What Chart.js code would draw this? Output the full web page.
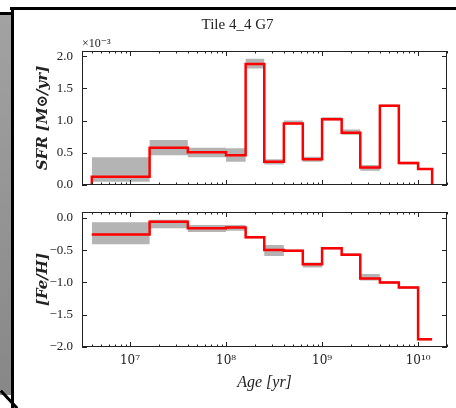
<!DOCTYPE html>
<html>
<head>
<meta charset="utf-8">
<script src="https://cdn.jsdelivr.net/npm/chart.js@4.4.1/dist/chart.umd.min.js"></script>
<style>
  html, body { margin: 0; padding: 0; background: #fff; }
  #page { position: relative; width: 456px; height: 408px; overflow: hidden; background: #fff; }
  canvas { position: absolute; left: 0; }
  #sfrChart { top: 0; }
  #fehChart { top: 200px; }
  .frame { position: absolute; background: #000; }
  #strip { position: absolute; left: 0; top: 15px; width: 11px; height: 380px; background: linear-gradient(#a2a2a2, #878787); }
</style>
</head>
<body>
<div id="page">
  <div id="strip"></div>
  <canvas id="sfrChart" width="456" height="200"></canvas>
  <canvas id="fehChart" width="456" height="208"></canvas>
  <div class="frame" style="left:10px;top:7px;width:446px;height:3px"></div>
  <div class="frame" style="left:11px;top:8px;width:3px;height:400px"></div>
  <div class="frame" style="left:0;top:12px;width:12px;height:3px"></div>
  <div class="frame" style="left:-3px;top:398px;width:24px;height:3px;transform:rotate(47deg)"></div>
</div>
<script>
// bin edges (age, yr)
var binEdges = [4e6, 1.6e7, 4e7, 1e8, 1.6e8, 2.5e8, 4e8, 6.3e8, 1e9, 1.6e9, 2.5e9, 4e9, 6.3e9, 1e10, 1.4e10];

// SFR in units of 1e-3 Msun/yr
var sfr   = [0.13, 0.58, 0.51, 0.46, 1.88, 0.36, 0.955, 0.40, 1.02, 0.81, 0.27, 1.23, 0.34, 0.25];
var sfrLo = [0.05, 0.46, 0.43, 0.36, 1.81, 0.32, 0.94, 0.36, 1.00, 0.78, 0.22, 1.21, 0.32, 0.24];
var sfrHi = [0.43, 0.70, 0.58, 0.57, 1.96, 0.40, 1.00, 0.44, 1.05, 0.86, 0.31, 1.25, 0.36, 0.26];

// [Fe/H]
var feh   = [-0.26, -0.06, -0.16, -0.15, -0.30, -0.50, -0.51, -0.72, -0.47, -0.57, -0.94, -1.00, -1.08, -1.88];
var fehLo = [-0.41, -0.16, -0.22, -0.20, -0.32, -0.59, -0.53, -0.77, -0.49, -0.59, -0.97, -1.02, -1.10, -1.90];
var fehHi = [-0.07, -0.03, -0.11, -0.11, -0.28, -0.42, -0.49, -0.69, -0.45, -0.55, -0.87, -0.98, -1.06, -1.86];

var sfrTicks = [0, 0.5, 1.0, 1.5, 2.0];
var fehTicks = [0, -0.5, -1.0, -1.5, -2.0];
var ageTicks = [1e7, 1e8, 1e9, 1e10];
var ageTickLabels = ['10\u2077', '10\u2078', '10\u2079', '10\u00b9\u2070'];

var ageMin = 3.1623e6, ageMax = 2e10;
var serif = "'Liberation Serif', 'DejaVu Serif', serif";
var wideSerif = "'DejaVu Serif', serif";

// step helpers
function steps(vals, dropToZero) {
    var pts = [];
    if (dropToZero) pts.push({x: binEdges[0], y: 0});
    for (var i = 0; i < vals.length; i++) pts.push({x: binEdges[i], y: vals[i]});
    pts.push({x: binEdges[binEdges.length - 1], y: dropToZero ? 0 : vals[vals.length - 1]});
    return pts;
}

var boxTicks = {
    id: 'boxTicks',
    afterDraw: function(chart, args, opts) {
        var ctx = chart.ctx, a = chart.chartArea, xs = chart.scales.x, ys = chart.scales.y;
        ctx.save();
        ctx.strokeStyle = '#222';
        ctx.lineWidth = 1;
        ctx.strokeRect(a.left + 0.5, a.top + 0.5, a.right - a.left - 1, a.bottom - a.top - 1);
        ctx.beginPath();
        opts.yTicks.forEach(function(v) {
            var py = Math.round(ys.getPixelForValue(v)) + 0.5;
            ctx.moveTo(a.left, py); ctx.lineTo(a.left + 5, py);
            ctx.moveTo(a.right, py); ctx.lineTo(a.right - 5, py);
        });
        ageTicks.forEach(function(v) {
            var px = Math.round(xs.getPixelForValue(v)) + 0.5;
            ctx.moveTo(px, a.bottom); ctx.lineTo(px, a.bottom - 5);
            ctx.moveTo(px, a.top); ctx.lineTo(px, a.top + 5);
        });
        for (var d = 6; d <= 10; d++) {
            for (var k = 2; k <= 9; k++) {
                var v = k * Math.pow(10, d);
                if (v < ageMin || v > ageMax) continue;
                var px = Math.round(xs.getPixelForValue(v)) + 0.5;
                ctx.moveTo(px, a.bottom); ctx.lineTo(px, a.bottom - 2.5);
                ctx.moveTo(px, a.top); ctx.lineTo(px, a.top + 2.5);
            }
        }
        ctx.stroke();
        if (opts.offsetText) {
            ctx.fillStyle = '#222';
            ctx.font = '12px ' + serif;
            ctx.textAlign = 'left';
            ctx.textBaseline = 'alphabetic';
            ctx.fillText(opts.offsetText, a.left, a.top - 4);
        }
        ctx.restore();
    }
};

function makeChart(el, cfg) {
    var red = { label: 'best', data: steps(cfg.vals, cfg.drop), borderColor: '#ff0000', borderWidth: 2.5,
                pointRadius: 0, stepped: 'before', fill: false, order: 0 };
    var hi = { label: 'hi', data: steps(cfg.hi, false), borderWidth: 0, borderColor: 'rgba(0,0,0,0)',
               pointRadius: 0, stepped: 'before', fill: false, order: 1 };
    var lo = { label: 'lo', data: steps(cfg.lo, false), borderWidth: 0, borderColor: 'rgba(0,0,0,0)',
               pointRadius: 0, stepped: 'before', fill: 1, backgroundColor: '#b4b4b4', order: 2 };
    return new Chart(el, {
        type: 'line',
        data: { datasets: [red, hi, lo] },
        plugins: [boxTicks],
        options: {
            responsive: false,
            animation: false,
            devicePixelRatio: 1,
            events: [],
            layout: { padding: cfg.padding },
            plugins: {
                legend: { display: false },
                tooltip: { enabled: false },
                title: cfg.title,
                boxTicks: { yTicks: cfg.yTicks, offsetText: cfg.offsetText }
            },
            scales: {
                x: {
                    type: 'logarithmic',
                    min: ageMin,
                    max: ageMax,
                    grid: { display: false, drawTicks: false },
                    border: { display: false },
                    afterBuildTicks: function(s) { s.ticks = ageTicks.map(function(v) { return {value: v}; }); },
                    afterFit: function(s) { s.height = cfg.xHeight; s.paddingLeft = 0; s.paddingRight = 0; },
                    ticks: {
                        display: cfg.showX,
                        autoSkip: false,
                        maxRotation: 0,
                        padding: 7,
                        color: '#222',
                        font: { family: wideSerif, size: 12 },
                        callback: function(v) { return ageTickLabels[ageTicks.indexOf(v)]; }
                    },
                    title: {
                        display: cfg.showX,
                        text: 'Age [yr]',
                        color: '#222',
                        font: { family: serif, size: 16, style: 'italic' },
                        padding: { top: 0, bottom: 16 }
                    }
                },
                y: {
                    min: cfg.yMin,
                    max: cfg.yMax,
                    grid: { display: false, drawTicks: false },
                    border: { display: false },
                    afterBuildTicks: function(s) { s.ticks = cfg.yTicks.map(function(v) { return {value: v}; }); },
                    afterFit: function(s) { s.width = 54; s.paddingTop = 0; s.paddingBottom = 0; },
                    ticks: {
                        padding: 9,
                        color: '#222',
                        font: { family: serif, size: 13 },
                        callback: function(v) { return v.toFixed(1).replace('-', '\u2212'); }
                    },
                    title: {
                        display: true,
                        text: cfg.yTitle,
                        color: '#222',
                        font: { family: wideSerif, size: 15, style: 'italic', weight: 'bold' },
                        padding: { top: 6, bottom: 0 }
                    }
                }
            }
        }
    });
}

makeChart(document.getElementById('sfrChart'), {
    vals: sfr, lo: sfrLo, hi: sfrHi, drop: true,
    yMin: 0, yMax: 2.08, yTicks: sfrTicks,
    yTitle: 'SFR [M\u2299/yr]', offsetText: '\u00d710\u207b\u00b3',
    showX: false, xHeight: 15,
    padding: { top: 0, right: 9, left: 28, bottom: 0 },
    title: { display: true, text: 'Tile 4_4 G7', color: '#222',
             font: { family: serif, size: 15, weight: 'normal' }, padding: { top: 16, bottom: 17 } }
});

makeChart(document.getElementById('fehChart'), {
    vals: feh, lo: fehLo, hi: fehHi, drop: false,
    yMin: -2.0, yMax: 0.09, yTicks: fehTicks,
    yTitle: '[Fe/H]', offsetText: null,
    showX: true, xHeight: 61,
    padding: { top: 12, right: 9, left: 28, bottom: 0 },
    title: { display: false }
});
</script>
</body>
</html>
